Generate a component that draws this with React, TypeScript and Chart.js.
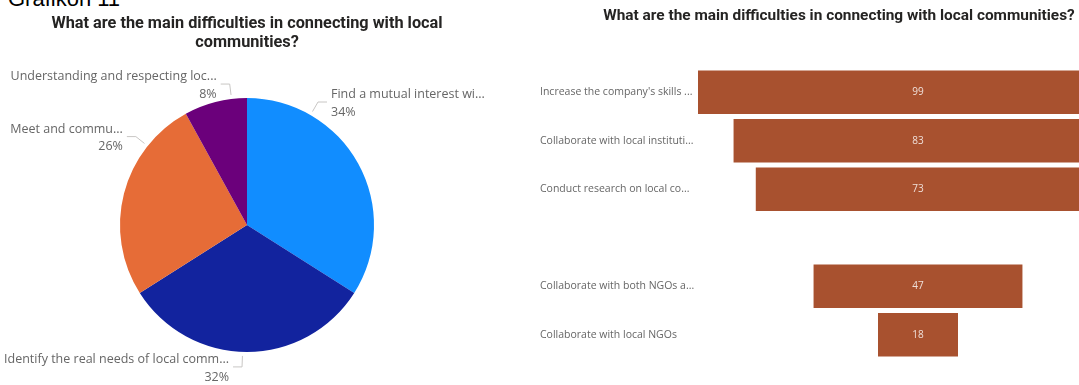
import React, { useEffect, useRef } from "react";
import { Chart, registerables } from "chart.js";

Chart.register(...registerables);

// ---------- data ----------
const pageHeading = "Grafikon 11";

const pieTitle = ["What are the main difficulties in connecting with local", "communities?"];
const pieLabels = [
  "Find a mutual interest wi...",
  "Identify the real needs of local comm...",
  "Meet and commu...",
  "Understanding and respecting loc...",
];
const pieValues = [34, 32, 26, 8];

const funnelTitle = "What are the main difficulties in connecting with local communities?";
const funnelLabels = [
  "Increase the company's skills ...",
  "Collaborate with local instituti...",
  "Conduct research on local co...",
  "",
  "Collaborate with both NGOs a...",
  "Collaborate with local NGOs",
];
const funnelValues: (number | null)[] = [99, 83, 73, null, 47, 18];

// ---------- styles ----------
const pieColors = ["#118DFF", "#12239E", "#E66C37", "#6B007B"];
const pieLabelAngles = [30, 182, -51.5, -7]; // leader-line direction, degrees clockwise from top
const barColor = "#A8512F";
const titleColor = "#252423";
const labelColor = "#666666";
const leaderColor = "#C8C6C4";
const titleFont = "Roboto";
const labelFont = "'Open Sans'";

const pieLabelPlugin = {
  id: "pieOutsideLabels",
  afterDatasetsDraw(chart: any) {
    const meta = chart.getDatasetMeta(0);
    const ctx = chart.ctx as CanvasRenderingContext2D;
    const total = pieValues.reduce((a, b) => a + b, 0);
    ctx.save();
    meta.data.forEach((arc: any, i: number) => {
      const { x, y, outerRadius } = arc.getProps(["x", "y", "outerRadius"], true);
      const a = (pieLabelAngles[i] * Math.PI) / 180;
      const s = Math.sin(a);
      const c = Math.cos(a);
      const sx = x + (outerRadius + 4) * s;
      const sy = y - (outerRadius + 4) * c;
      const ex = x + (outerRadius + 15) * s;
      const ey = y - (outerRadius + 15) * c;
      const right = s >= 0;
      const hx = ex + (right ? 9 : -9);
      ctx.strokeStyle = leaderColor;
      ctx.lineWidth = 1;
      ctx.beginPath();
      ctx.moveTo(sx, sy);
      ctx.lineTo(ex, ey);
      ctx.lineTo(hx, ey);
      ctx.stroke();
      const tx = hx + (right ? 4 : -4);
      ctx.fillStyle = labelColor;
      ctx.font = `12.5px ${labelFont}`;
      ctx.textAlign = right ? "left" : "right";
      ctx.textBaseline = "middle";
      ctx.fillText(pieLabels[i], tx, ey + 1.5 - 8.75);
      ctx.fillText(Math.round((pieValues[i] / total) * 100) + "%", tx, ey + 1.5 + 8.75);
    });
    ctx.restore();
  },
};

const barValuePlugin = {
  id: "funnelValues",
  afterDatasetsDraw(chart: any) {
    const meta = chart.getDatasetMeta(0);
    const ctx = chart.ctx as CanvasRenderingContext2D;
    ctx.save();
    ctx.fillStyle = "rgba(255,255,255,0.82)";
    ctx.font = `10px ${labelFont}`;
    ctx.textAlign = "center";
    ctx.textBaseline = "middle";
    meta.data.forEach((bar: any, i: number) => {
      const v = funnelValues[i];
      if (v == null) return;
      const { x, y, base } = bar.getProps(["x", "y", "base"], true);
      ctx.fillText(String(v), (x + base) / 2, y);
    });
    ctx.restore();
  },
};

function PieChart() {
  const ref = useRef<HTMLCanvasElement>(null);
  useEffect(() => {
    const chart = new Chart(ref.current!, {
      type: "pie",
      data: {
        labels: pieLabels,
        datasets: [
          {
            data: pieValues,
            backgroundColor: pieColors,
            borderWidth: 0,
            hoverOffset: 0,
            offset: 0,
          },
        ],
      },
      options: {
        animation: false,
        responsive: false,
        devicePixelRatio: 1,
        layout: { padding: { top: 0, bottom: 33, left: 0, right: 0 } },
        plugins: {
          legend: { display: false },
          tooltip: { enabled: false },
          title: {
            display: true,
            text: pieTitle,
            color: titleColor,
            font: { family: titleFont, size: 16.3, weight: "bold", lineHeight: 1.15 },
            padding: { top: 14.5, bottom: 46 },
          },
        },
      },
      plugins: [pieLabelPlugin],
    } as any);
    return () => chart.destroy();
  }, []);
  return (
    <canvas
      ref={ref}
      width={494}
      height={385}
      style={{ position: "absolute", left: 0, top: 0, width: 494, height: 385 }}
    />
  );
}

function FunnelChart() {
  const ref = useRef<HTMLCanvasElement>(null);
  useEffect(() => {
    const maxV = Math.max(...(funnelValues.filter((v) => v != null) as number[]));
    const chart = new Chart(ref.current!, {
      type: "bar",
      data: {
        labels: funnelLabels,
        datasets: [
          {
            data: funnelValues.map((v) => (v == null ? null : [-v, v])),
            backgroundColor: barColor,
            borderWidth: 0,
            categoryPercentage: 0.9,
            barPercentage: 1,
          },
        ],
      },
      options: {
        indexAxis: "y",
        animation: false,
        responsive: false,
        devicePixelRatio: 1,
        layout: { padding: { top: 0, bottom: 26, left: 10, right: 0 } },
        plugins: {
          legend: { display: false },
          tooltip: { enabled: false },
          title: {
            display: true,
            text: funnelTitle,
            color: titleColor,
            font: { family: titleFont, size: 15.4, weight: "bold", lineHeight: 1.2 },
            padding: { top: 7.2, bottom: 42.3 },
          },
        },
        scales: {
          x: { display: false, min: -maxV, max: maxV },
          y: {
            grid: { display: false },
            border: { display: false },
            ticks: {
              crossAlign: "far",
              color: labelColor,
              font: { family: "Open Sans", size: 10.5 },
              padding: 0,
            },
            afterFit: (s: any) => {
              s.width = 158;
            },
          },
        },
      },
      plugins: [barValuePlugin],
    } as any);
    return () => chart.destroy();
  }, []);
  return (
    <canvas
      ref={ref}
      width={608}
      height={385}
      style={{ position: "absolute", left: 530, top: 0, width: 608, height: 385 }}
    />
  );
}

export default function App() {
  return (
    <div
      style={{
        position: "fixed",
        left: 0,
        top: 0,
        width: 1079,
        height: 385,
        overflow: "hidden",
        background: "#fff",
      }}
    >
      <div
        style={{
          position: "absolute",
          left: 8,
          top: -14,
          fontFamily: "'Liberation Sans', Arial, sans-serif",
          fontSize: 22,
          color: "#000",
          whiteSpace: "nowrap",
        }}
      >
        {pageHeading}
      </div>
      <PieChart />
      <FunnelChart />
    </div>
  );
}
